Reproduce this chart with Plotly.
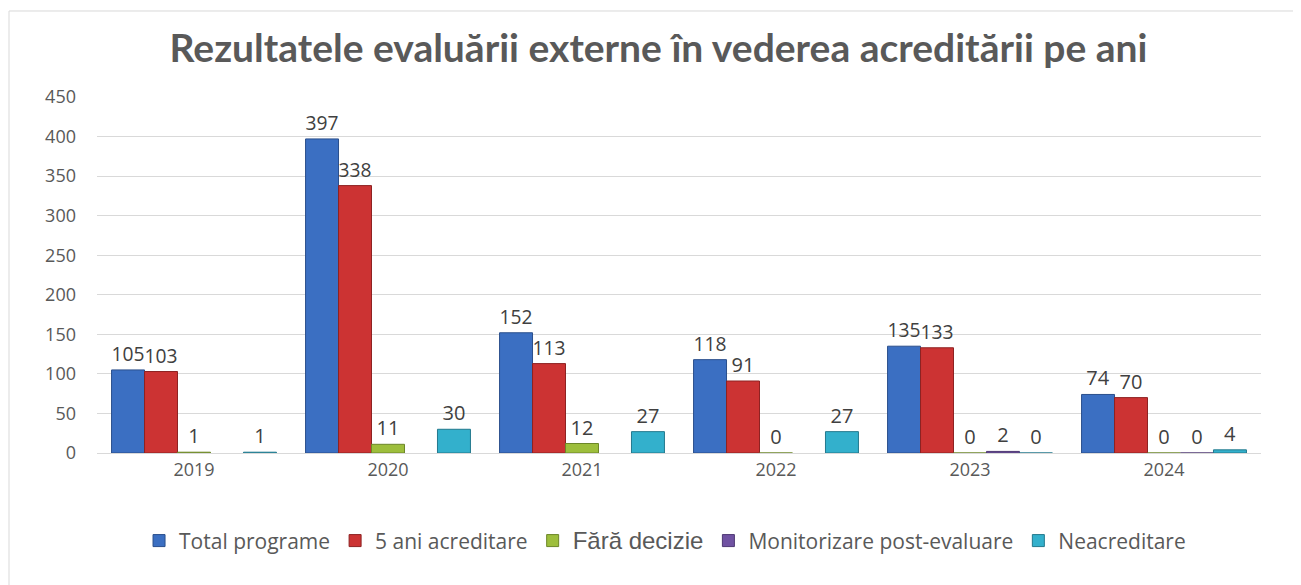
import plotly.graph_objects as go

years = ["2019", "2020", "2021", "2022", "2023", "2024"]
total_programe = [105, 397, 152, 118, 135, 74]
ani5_acreditare = [103, 338, 113, 91, 133, 70]
fara_decizie = [1, 11, 12, 0, 0, 0]
monitorizare = [None, None, None, None, 2, 0]
neacreditare = [1, 30, 27, 27, 0, 4]

series = [
    ("Total programe", total_programe, "#3B6FC2", "#2A4F8C"),
    ("5 ani acreditare", ani5_acreditare, "#CC3333", "#8E2222"),
    ("<span style='font-family:Liberation Sans;font-size:24px'>Fără decizie</span>", fara_decizie, "#9DBE3C", "#6C8628"),
    ("Monitorizare post-evaluare", monitorizare, "#7052A2", "#4E3873"),
    ("Neacreditare", neacreditare, "#33B0CC", "#23798D"),
]

FONT = "Open Sans"

fig = go.Figure()
for name, vals, col, lc in series:
    fig.add_trace(go.Bar(
        x=years, y=vals, name=name,
        marker=dict(color=col, line=dict(color=lc, width=1)),
        text=[("" if v is None else str(v)) for v in vals],
        textposition="outside",
        textfont=dict(size=20, color="#404040", family=FONT),
        cliponaxis=False,
    ))

fig.update_layout(
    width=1301, height=585,
    paper_bgcolor="white", plot_bgcolor="white",
    barmode="group", bargap=0.15, bargroupgap=0,
    margin=dict(l=89, r=48, t=89, b=140),
    font=dict(family=FONT, color="#595959", size=18),
    title=dict(text="<b>Rezultatele evaluării externe în vederea acreditării pe ani</b>",
               x=0.5, xanchor="center", y=0.9316, yanchor="middle",
               font=dict(size=39, color="#595959", family="Lato")),
    legend=dict(orientation="h", x=0.488, xanchor="center", y=-0.247, yanchor="middle",
                font=dict(size=21, color="#595959", family=FONT), itemwidth=30,
                traceorder="normal"),
    yaxis=dict(range=[0, 450], dtick=50, showgrid=True, gridcolor="#D9D9D9", gridwidth=1,
               zeroline=False, showline=False, ticks="", ticklabelstandoff=20,
               tickfont=dict(size=18, color="#595959", family=FONT)),
    xaxis=dict(showline=True, linecolor="#D9D9D9", linewidth=1, ticks="",
               tickfont=dict(size=18, color="#595959", family=FONT)),
    shapes=[dict(type="rect", xref="paper", yref="paper", x0=-0.0756, x1=1.08, y0=-0.6, y1=1.2416,
                 line=dict(color="#D9D9D9", width=1), fillcolor="rgba(0,0,0,0)", layer="below")],
)

fig.write_html("out.html")
